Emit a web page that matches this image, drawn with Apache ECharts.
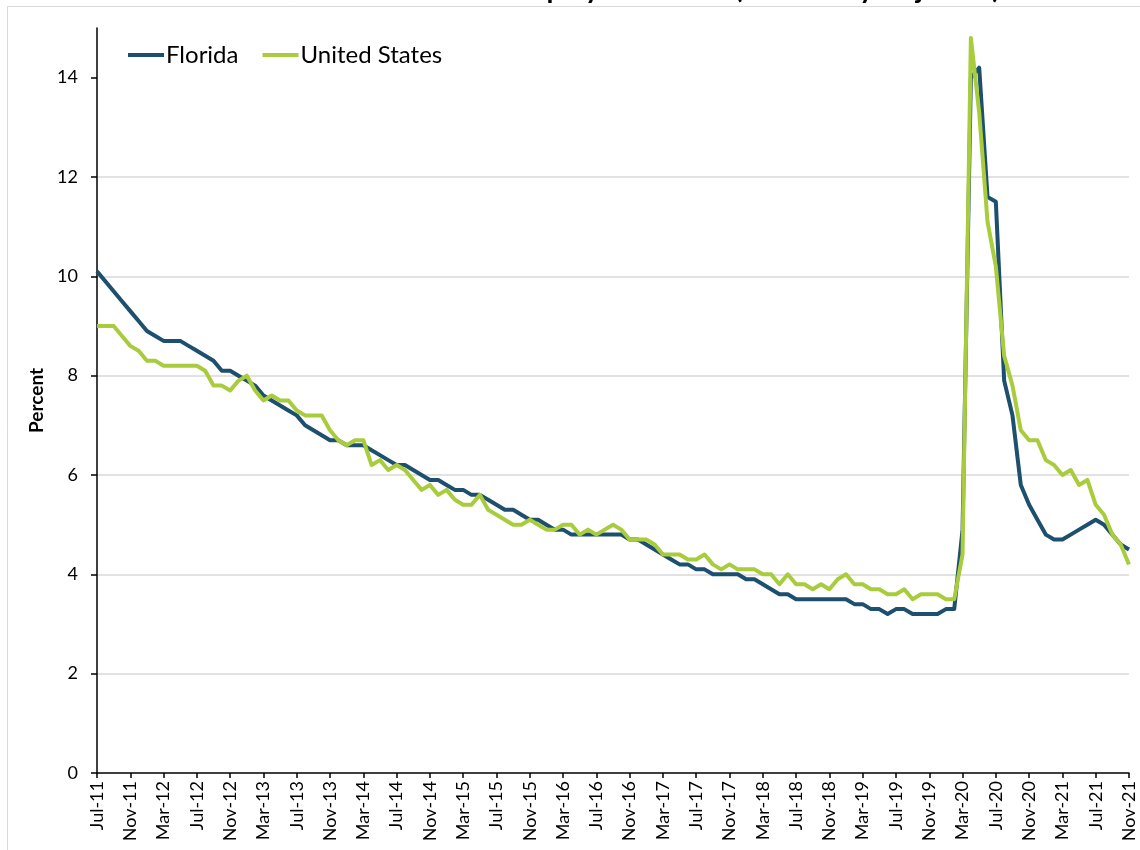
<!DOCTYPE html>
<html><head><meta charset="utf-8">
<script src="https://cdn.jsdelivr.net/npm/echarts@6/dist/echarts.min.js"></script>
<style>html,body{margin:0;padding:0;background:#fff}#c{width:1140px;height:850px}</style>
</head><body><div id="c"></div>
<script>
const categories = [
  'Jul-11','Aug-11','Sep-11','Oct-11','Nov-11','Dec-11',
  'Jan-12','Feb-12','Mar-12','Apr-12','May-12','Jun-12','Jul-12','Aug-12','Sep-12','Oct-12','Nov-12','Dec-12',
  'Jan-13','Feb-13','Mar-13','Apr-13','May-13','Jun-13','Jul-13','Aug-13','Sep-13','Oct-13','Nov-13','Dec-13',
  'Jan-14','Feb-14','Mar-14','Apr-14','May-14','Jun-14','Jul-14','Aug-14','Sep-14','Oct-14','Nov-14','Dec-14',
  'Jan-15','Feb-15','Mar-15','Apr-15','May-15','Jun-15','Jul-15','Aug-15','Sep-15','Oct-15','Nov-15','Dec-15',
  'Jan-16','Feb-16','Mar-16','Apr-16','May-16','Jun-16','Jul-16','Aug-16','Sep-16','Oct-16','Nov-16','Dec-16',
  'Jan-17','Feb-17','Mar-17','Apr-17','May-17','Jun-17','Jul-17','Aug-17','Sep-17','Oct-17','Nov-17','Dec-17',
  'Jan-18','Feb-18','Mar-18','Apr-18','May-18','Jun-18','Jul-18','Aug-18','Sep-18','Oct-18','Nov-18','Dec-18',
  'Jan-19','Feb-19','Mar-19','Apr-19','May-19','Jun-19','Jul-19','Aug-19','Sep-19','Oct-19','Nov-19','Dec-19',
  'Jan-20','Feb-20','Mar-20','Apr-20','May-20','Jun-20','Jul-20','Aug-20','Sep-20','Oct-20','Nov-20','Dec-20',
  'Jan-21','Feb-21','Mar-21','Apr-21','May-21','Jun-21','Jul-21','Aug-21','Sep-21','Oct-21','Nov-21'
];
const florida = [
  10.1, 9.9, 9.7, 9.5, 9.3, 9.1,
  8.9, 8.8, 8.7, 8.7, 8.7, 8.6, 8.5, 8.4, 8.3, 8.1, 8.1, 8.0,
  7.9, 7.8, 7.6, 7.5, 7.4, 7.3, 7.2, 7.0, 6.9, 6.8, 6.7, 6.7,
  6.6, 6.6, 6.6, 6.5, 6.4, 6.3, 6.2, 6.2, 6.1, 6.0, 5.9, 5.9,
  5.8, 5.7, 5.7, 5.6, 5.6, 5.5, 5.4, 5.3, 5.3, 5.2, 5.1, 5.1,
  5.0, 4.9, 4.9, 4.8, 4.8, 4.8, 4.8, 4.8, 4.8, 4.8, 4.7, 4.7,
  4.6, 4.5, 4.4, 4.3, 4.2, 4.2, 4.1, 4.1, 4.0, 4.0, 4.0, 4.0,
  3.9, 3.9, 3.8, 3.7, 3.6, 3.6, 3.5, 3.5, 3.5, 3.5, 3.5, 3.5,
  3.5, 3.4, 3.4, 3.3, 3.3, 3.2, 3.3, 3.3, 3.2, 3.2, 3.2, 3.2,
  3.3, 3.3, 4.9, 14.0, 14.2, 11.6, 11.5, 7.9, 7.2, 5.8, 5.4, 5.1,
  4.8, 4.7, 4.7, 4.8, 4.9, 5.0, 5.1, 5.0, 4.8, 4.6, 4.5
];
const unitedStates = [
  9.0, 9.0, 9.0, 8.8, 8.6, 8.5,
  8.3, 8.3, 8.2, 8.2, 8.2, 8.2, 8.2, 8.1, 7.8, 7.8, 7.7, 7.9,
  8.0, 7.7, 7.5, 7.6, 7.5, 7.5, 7.3, 7.2, 7.2, 7.2, 6.9, 6.7,
  6.6, 6.7, 6.7, 6.2, 6.3, 6.1, 6.2, 6.1, 5.9, 5.7, 5.8, 5.6,
  5.7, 5.5, 5.4, 5.4, 5.6, 5.3, 5.2, 5.1, 5.0, 5.0, 5.1, 5.0,
  4.9, 4.9, 5.0, 5.0, 4.8, 4.9, 4.8, 4.9, 5.0, 4.9, 4.7, 4.7,
  4.7, 4.6, 4.4, 4.4, 4.4, 4.3, 4.3, 4.4, 4.2, 4.1, 4.2, 4.1,
  4.1, 4.1, 4.0, 4.0, 3.8, 4.0, 3.8, 3.8, 3.7, 3.8, 3.7, 3.9,
  4.0, 3.8, 3.8, 3.7, 3.7, 3.6, 3.6, 3.7, 3.5, 3.6, 3.6, 3.6,
  3.5, 3.5, 4.4, 14.8, 13.3, 11.1, 10.2, 8.4, 7.8, 6.9, 6.7, 6.7,
  6.3, 6.2, 6.0, 6.1, 5.8, 5.9, 5.4, 5.2, 4.8, 4.6, 4.2
];
const yTicks = [0, 2, 4, 6, 8, 10, 12, 14];
const titleText = 'Florida and U.S. Unemployment Rate (Seasonally Adjusted)';

const FONT = 'Lato, "Open Sans", sans-serif';
const chart = echarts.init(document.getElementById('c'), null, {renderer: 'canvas'});
chart.setOption({
  animation: false,
  backgroundColor: '#ffffff',
  graphic: [
    {type: 'rect', silent: true, z: -10,
     shape: {x: 7.5, y: 6.5, width: 1200, height: 1000},
     style: {fill: 'none', stroke: '#d9d9d9', lineWidth: 1}},
    {type: 'text', silent: true, x: 1000, y: 3,
     style: {text: titleText, fontSize: 28, fontWeight: 'bold', fontFamily: FONT, fill: '#000',
             textAlign: 'right', textVerticalAlign: 'bottom', align: 'right', verticalAlign: 'bottom'}}
  ],
  legend: {
    left: 128, top: 43, padding: 0, itemWidth: 36, itemHeight: 4, itemGap: 24, icon: 'rect',
    data: ['Florida', 'United States'],
    textStyle: {fontSize: 24, color: '#000', fontFamily: FONT, padding: [0, 0, 0, -3]}
  },
  grid: {left: 97, right: 11, top: 28, bottom: 77, outerBoundsMode: 'none', containLabel: false},
  xAxis: {
    type: 'category', data: categories, boundaryGap: false,
    axisLine: {lineStyle: {color: '#000', width: 1.5}},
    axisTick: {show: true, interval: 3, length: 5, lineStyle: {color: '#000', width: 1.5}},
    axisLabel: {interval: 3, rotate: 90, fontSize: 18, color: '#000', fontFamily: FONT, margin: 8},
    splitLine: {show: false}
  },
  yAxis: {
    type: 'value', min: 0, max: 15, interval: 2,
    name: 'Percent', nameLocation: 'middle', nameGap: 50, nameRotate: 90,
    nameTextStyle: {fontSize: 19, fontWeight: 'bold', color: '#000', fontFamily: FONT},
    axisLine: {show: true, lineStyle: {color: '#000', width: 1.5}},
    axisTick: {show: true, length: 6, customValues: yTicks, lineStyle: {color: '#000', width: 1.5}},
    axisLabel: {customValues: yTicks, fontSize: 18, color: '#000', fontFamily: FONT, margin: 19},
    splitLine: {show: true, showMinLine: false, showMaxLine: false, lineStyle: {color: '#d9d9d9', width: 1.5}}
  },
  series: [
    {name: 'Florida', type: 'line', data: florida, symbol: 'none', z: 2,
     lineStyle: {color: '#1d4f6e', width: 4, join: 'round'}, itemStyle: {color: '#1d4f6e'}},
    {name: 'United States', type: 'line', data: unitedStates, symbol: 'none', z: 3,
     lineStyle: {color: '#a8cc3c', width: 4, join: 'round'}, itemStyle: {color: '#a8cc3c'}}
  ]
});
</script>
</body></html>
